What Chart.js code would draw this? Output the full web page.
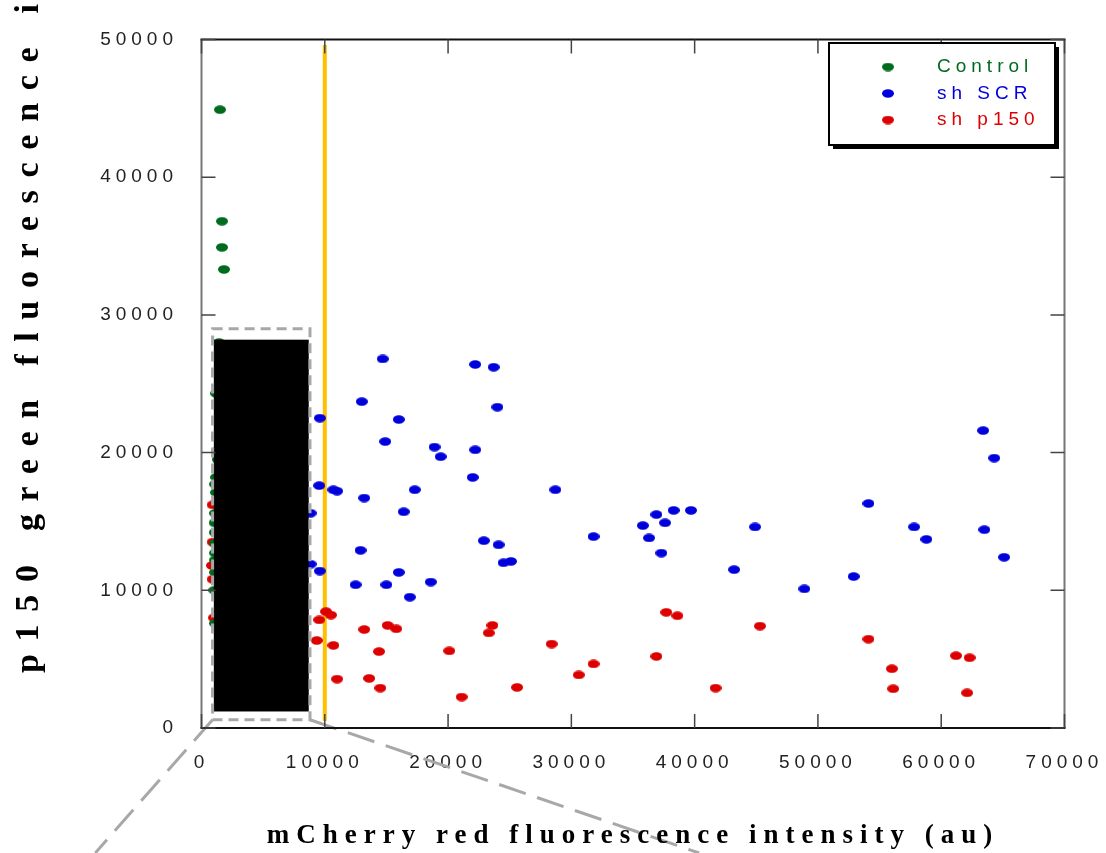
<!DOCTYPE html>
<html>
<head>
<meta charset="utf-8">
<title>p150 green vs mCherry red fluorescence</title>
<script src="https://cdn.jsdelivr.net/npm/chart.js@4.4.1/dist/chart.umd.min.js"></script>
<style>
    html, body { margin: 0; padding: 0; background: #fff; }
    canvas { display: block; }
</style>
</head>
<body>
<canvas id="scatterChart" width="1106" height="853"></canvas>
<script>
// axis ticks
const xTicks = [0, 10000, 20000, 30000, 40000, 50000, 60000, 70000];
const yTicks = [0, 10000, 20000, 30000, 40000, 50000];

const seriesNames = ['Control', 'sh SCR', 'sh p150'];
const seriesColors = ['#006b1f', '#0000dc', '#dc0000'];

// Control (green)
const controlX = [1500, 1660, 1660, 1820, 1420, 1400, 1180, 1240, 1240, 1320, 1180, 1100, 1180,
    1100, 1060, 1080, 1100, 1100, 1100, 1100, 1040, 1100];
const controlY = [44900, 36800, 34900, 33300, 28000, 25800, 24300, 21100, 20100, 19500, 18200, 17700, 17100,
    15600, 14900, 14200, 13400, 12700, 12200, 11300, 10000, 7600];

// sh SCR (blue)
const scrX = [14700, 22200, 23700, 13000, 24000, 9600, 16000, 14900, 18900, 19400,
    22200, 22000, 9550, 10700, 11000, 13200, 17300, 28700, 16400, 8850,
    31800, 22900, 24100, 12900, 24500, 25100, 8850, 9600, 16000, 12500,
    15000, 18600, 16900, 35800, 36900, 38300, 39700, 37600, 36300, 37300,
    44900, 43200, 48900, 54100, 52900, 57800, 58800, 63400, 64300, 63500, 65100];
const scrY = [26800, 26400, 26200, 23700, 23300, 22500, 22400, 20800, 20400, 19700,
    20200, 18200, 17600, 17300, 17200, 16700, 17300, 17300, 15700, 15600,
    13900, 13600, 13300, 12900, 12000, 12100, 11900, 11400, 11300, 10400,
    10400, 10600, 9500, 14700, 15500, 15800, 15800, 14900, 13800, 12700,
    14600, 11500, 10100, 16300, 11000, 14600, 13700, 21600, 19600, 14400, 12400];

// sh p150 (red)
const p150X = [10100, 10500, 9550, 9350, 10700, 13200, 15100, 15800, 14400, 11000,
    13600, 14500, 20100, 21100, 23600, 23300, 25600, 28400, 30600, 31800,
    37700, 38600, 36900, 45300, 41700, 54100, 56000, 56100, 61200, 62300, 62100,
    900, 900, 850, 900, 1000];
const p150Y = [8450, 8200, 7850, 6350, 6000, 7150, 7450, 7200, 5550, 3550,
    3600, 2900, 5600, 2250, 7450, 6900, 2950, 6100, 3850, 4650,
    8400, 8150, 5200, 7400, 2900, 6450, 4300, 2850, 5250, 5100, 2550,
    16200, 13500, 11800, 10800, 8000];

// 10000 cut-off line
const cutoffX = [10000, 10000];
const cutoffY = [500, 49600];

// blacked-out region and the dashed zoom box round it (data units)
const maskBox = { x0: 1000, x1: 8700, y0: 1200, y1: 28200 };
const zoomBox = { x0: 900, x1: 8800, y0: 600, y1: 29000 };

const xTitle = 'mCherry red fluorescence intensity (au)';
const yTitle = 'p150 green fluorescence intensity (au)';

function toPoints(xs, ys) {
    return xs.map((x, i) => ({ x: x, y: ys[i] }));
}

// oval markers like the original plot
function ovalDot(color) {
    const c = document.createElement('canvas');
    c.width = 12;
    c.height = 9;
    const g = c.getContext('2d');
    g.fillStyle = color;
    g.beginPath();
    g.ellipse(6, 4.5, 6, 4.2, 0, 0, Math.PI * 2);
    g.fill();
    return c;
}
const dots = seriesColors.map(ovalDot);

const decorPlugin = {
    id: 'decor',
    beforeDraw(chart) {
        chart.ctx.letterSpacing = '5px'; // spaced tick labels
    },
    afterDatasetsDraw(chart) {
        const ctx = chart.ctx;
        const xs = chart.scales.x, ys = chart.scales.y;
        ctx.save();
        // black mask
        ctx.fillStyle = '#000';
        const mx0 = xs.getPixelForValue(maskBox.x0), mx1 = xs.getPixelForValue(maskBox.x1);
        const my0 = ys.getPixelForValue(maskBox.y0), my1 = ys.getPixelForValue(maskBox.y1);
        ctx.fillRect(mx0, my1, mx1 - mx0, my0 - my1);
        ctx.restore();
    },
    afterDraw(chart) {
        const ctx = chart.ctx;
        const area = chart.chartArea;
        const xs = chart.scales.x, ys = chart.scales.y;
        ctx.save();
        ctx.letterSpacing = '0px';

        // dashed zoom box + lines fanning out below
        const zx0 = xs.getPixelForValue(zoomBox.x0), zx1 = xs.getPixelForValue(zoomBox.x1);
        const zy0 = ys.getPixelForValue(zoomBox.y0), zy1 = ys.getPixelForValue(zoomBox.y1);
        ctx.strokeStyle = '#a8a8a8';
        ctx.lineWidth = 3;
        ctx.setLineDash([10, 6]);
        ctx.strokeRect(zx0, zy1, zx1 - zx0, zy0 - zy1);
        ctx.setLineDash([28, 12]);
        const h = chart.height - zy0;
        ctx.beginPath();
        ctx.moveTo(zx0, zy0);
        ctx.lineTo(zx0 - h * 0.88, chart.height);
        ctx.moveTo(zx1, zy0);
        ctx.lineTo(zx1 + h * 2.92, chart.height);
        ctx.stroke();
        ctx.setLineDash([]);

        // frame
        ctx.lineWidth = 2;
        ctx.strokeStyle = '#777';
        ctx.beginPath();
        ctx.moveTo(area.left, area.top); ctx.lineTo(area.left, area.bottom);
        ctx.moveTo(area.right, area.top); ctx.lineTo(area.right, area.bottom);
        ctx.stroke();
        ctx.strokeStyle = '#111';
        ctx.beginPath();
        ctx.moveTo(area.left - 1, area.top); ctx.lineTo(area.right + 1, area.top);
        ctx.moveTo(area.left - 1, area.bottom); ctx.lineTo(area.right + 1, area.bottom);
        ctx.stroke();

        // inward ticks on all four sides
        const tl = 14;
        ctx.lineWidth = 1.5;
        ctx.strokeStyle = '#444';
        ctx.beginPath();
        yTicks.forEach(v => {
            const y = ys.getPixelForValue(v);
            ctx.moveTo(area.left, y); ctx.lineTo(area.left + tl, y);
            ctx.moveTo(area.right, y); ctx.lineTo(area.right - tl, y);
        });
        xTicks.forEach(v => {
            const x = xs.getPixelForValue(v);
            ctx.moveTo(x, area.bottom); ctx.lineTo(x, area.bottom - tl);
            ctx.moveTo(x, area.top); ctx.lineTo(x, area.top + tl);
        });
        ctx.stroke();

        // legend box with drop shadow
        const lw = 226, lh = 102;
        const lx = area.right - 9.5 - lw, ly = area.top + 3.5;
        ctx.fillStyle = '#000';
        ctx.fillRect(lx + 4, ly + 4, lw, lh);
        ctx.fillStyle = '#fff';
        ctx.fillRect(lx, ly, lw, lh);
        ctx.lineWidth = 2;
        ctx.strokeStyle = '#000';
        ctx.strokeRect(lx, ly, lw, lh);
        ctx.font = '19px "Liberation Sans", Arial, sans-serif';
        ctx.textBaseline = 'middle';
        ctx.textAlign = 'left';
        ctx.letterSpacing = '5px';
        seriesNames.forEach((name, i) => {
            const y = ly + 24 + i * 26.5;
            ctx.drawImage(dots[i], lx + 53, y - 4.5);
            ctx.fillStyle = seriesColors[i];
            ctx.fillText(name, lx + 108, y);
        });

        // axis titles
        ctx.fillStyle = '#000';
        ctx.textBaseline = 'alphabetic';
        ctx.font = 'bold 27px "Liberation Serif", "Times New Roman", serif';
        ctx.letterSpacing = '7px';
        ctx.textAlign = 'center';
        ctx.fillText(xTitle, (area.left + area.right) / 2, 843);

        ctx.font = 'bold 34px "Liberation Serif", "Times New Roman", serif';
        ctx.letterSpacing = '12.7px';
        ctx.textAlign = 'left';
        ctx.translate(38, 673);
        ctx.rotate(-Math.PI / 2);
        ctx.fillText(yTitle, 0, 0);
        ctx.restore();

        ctx.letterSpacing = '0px';
    }
};

document.addEventListener('DOMContentLoaded', function () {
    const ctx = document.getElementById('scatterChart').getContext('2d');

    new Chart(ctx, {
        type: 'scatter',
        data: {
            datasets: [{
                label: seriesNames[0],
                data: toPoints(controlX, controlY),
                pointStyle: dots[0],
                backgroundColor: seriesColors[0],
                borderColor: seriesColors[0]
            }, {
                label: seriesNames[1],
                data: toPoints(scrX, scrY),
                pointStyle: dots[1],
                backgroundColor: seriesColors[1],
                borderColor: seriesColors[1]
            }, {
                label: seriesNames[2],
                data: toPoints(p150X, p150Y),
                pointStyle: dots[2],
                backgroundColor: seriesColors[2],
                borderColor: seriesColors[2]
            }, {
                label: 'cut-off',
                data: toPoints(cutoffX, cutoffY),
                showLine: true,
                borderColor: '#ffc000',
                borderWidth: 4,
                pointRadius: 0
            }]
        },
        options: {
            responsive: false,
            animation: false,
            events: [],
            layout: {
                padding: { top: 39.5, right: 41.5, bottom: 0, left: 0 }
            },
            scales: {
                x: {
                    type: 'linear',
                    min: 0,
                    max: 70000,
                    afterBuildTicks: s => { s.ticks = xTicks.map(v => ({ value: v })); },
                    afterFit: s => {
                        s.height = 125;
                        s.paddingLeft = 0;
                        s.paddingRight = 0;
                    },
                    grid: { display: false, drawTicks: false },
                    border: { display: false },
                    ticks: {
                        autoSkip: false,
                        maxRotation: 0,
                        padding: 23,
                        color: '#222',
                        font: { family: '"Liberation Sans", Arial, sans-serif', size: 19 },
                        callback: v => String(v)
                    }
                },
                y: {
                    type: 'linear',
                    min: 0,
                    max: 50000,
                    afterBuildTicks: s => { s.ticks = yTicks.map(v => ({ value: v })); },
                    afterFit: s => {
                        s.width = 201.5;
                        s.paddingTop = 0;
                        s.paddingBottom = 0;
                    },
                    grid: { display: false, drawTicks: false },
                    border: { display: false },
                    ticks: {
                        padding: 23.5,
                        color: '#222',
                        font: { family: '"Liberation Sans", Arial, sans-serif', size: 19 },
                        callback: v => String(v)
                    }
                }
            },
            plugins: {
                legend: { display: false },
                tooltip: { enabled: false }
            }
        },
        plugins: [decorPlugin]
    });
});
</script>
</body>
</html>
